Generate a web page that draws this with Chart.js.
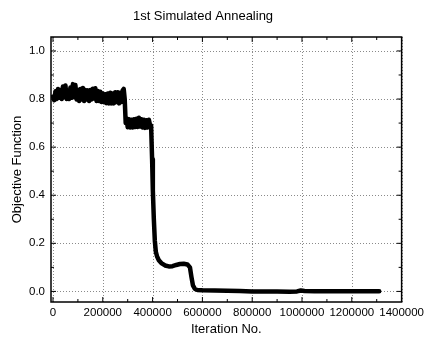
<!DOCTYPE html>
<html>
<head>
<meta charset="utf-8">
<script src="https://cdn.jsdelivr.net/npm/chart.js@4.4.0/dist/chart.umd.min.js"></script>
<style>
  html, body { margin: 0; padding: 0; background: #fff; }
  #wrap { width: 428px; height: 343px; }
</style>
</head>
<body>
<div id="wrap"><canvas id="grafico"></canvas></div>
<script>
// valores
const iteracoes = [
  0, 5000, 10000, 15000, 20000, 25000, 30000, 35000, 40000, 45000,
  50000, 55000, 60000, 65000, 70000, 75000, 80000, 85000, 90000, 95000,
  100000, 105000, 110000, 115000, 120000, 125000, 130000, 135000, 140000, 145000,
  150000, 155000, 160000, 165000, 170000, 175000, 180000, 185000, 190000, 195000,
  200000, 205000, 210000, 215000, 220000, 225000, 230000, 235000, 240000, 245000,
  250000, 255000, 260000, 265000, 270000, 275000, 280000, 284000, 288000, 292000,
  295000, 300000, 305000, 310000, 315000, 320000, 325000, 330000, 335000, 340000,
  345000, 350000, 355000, 360000, 365000, 370000, 375000, 380000, 385000, 390000,
  394000, 398000, 401000, 405000, 409000, 413000, 418000, 425000, 435000, 450000,
  465000, 480000, 495000, 510000, 525000, 540000, 550000, 556000, 562000, 570000,
  580000, 600000, 650000, 700000, 750000, 800000, 850000, 900000, 950000, 980000,
  995000, 1010000, 1050000, 1100000, 1200000, 1310000
];
const objetivo = [
  0.81, 0.795, 0.832, 0.80, 0.842, 0.805, 0.838, 0.80, 0.852, 0.808,
  0.856, 0.80, 0.832, 0.80, 0.848, 0.805, 0.862, 0.808, 0.858, 0.798,
  0.838, 0.792, 0.842, 0.798, 0.846, 0.792, 0.838, 0.798, 0.836, 0.792,
  0.838, 0.798, 0.843, 0.802, 0.845, 0.792, 0.833, 0.792, 0.83, 0.788,
  0.823, 0.787, 0.82, 0.783, 0.823, 0.782, 0.826, 0.782, 0.823, 0.782,
  0.828, 0.788, 0.828, 0.782, 0.826, 0.788, 0.836, 0.842, 0.80, 0.70,
  0.72, 0.683, 0.716, 0.682, 0.714, 0.682, 0.716, 0.684, 0.718, 0.684,
  0.722, 0.686, 0.716, 0.682, 0.714, 0.68, 0.712, 0.682, 0.714, 0.69,
  0.69, 0.55, 0.42, 0.30, 0.21, 0.165, 0.145, 0.13, 0.118, 0.108,
  0.104, 0.105, 0.11, 0.114, 0.115, 0.112, 0.10, 0.06, 0.025, 0.01,
  0.006, 0.005, 0.004, 0.003, 0.002, 0.0, 0.0, 0.0, -0.001, 0.0,
  0.004, 0.002, 0.001, 0.001, 0.001, 0.001
];
const ticksX = [0, 200000, 400000, 600000, 800000, 1000000, 1200000, 1400000];
const ticksY = [0.0, 0.2, 0.4, 0.6, 0.8, 1.0];

const fonte = "'Liberation Sans', Arial, sans-serif";

// grade pontilhada, moldura e marcas internas
const moldura = {
    id: "moldura",
    beforeDatasetsDraw(chart) {
        const { ctx, chartArea: a, scales: { x, y } } = chart;
        ctx.save();
        ctx.strokeStyle = "#8a8a8a";
        ctx.lineWidth = 1;
        ctx.setLineDash([1, 2]);
        ticksX.forEach(v => {
            const px = Math.round(x.getPixelForValue(v)) + 0.5;
            ctx.beginPath(); ctx.moveTo(px, a.top); ctx.lineTo(px, a.bottom); ctx.stroke();
        });
        ticksY.forEach(v => {
            const py = Math.round(y.getPixelForValue(v)) + 0.5;
            ctx.beginPath(); ctx.moveTo(a.left, py); ctx.lineTo(a.right, py); ctx.stroke();
        });
        ctx.restore();
    },
    afterDatasetsDraw(chart) {
        const { ctx, chartArea: a, scales: { x, y } } = chart;
        ctx.save();
        ctx.strokeStyle = "#000";
        ctx.lineWidth = 1.5;
        ctx.setLineDash([]);
        ctx.strokeRect(a.left, a.top, a.right - a.left, a.bottom - a.top);
        ctx.lineWidth = 1;
        const marca = (px, len) => {
            ctx.beginPath();
            ctx.moveTo(px, a.bottom); ctx.lineTo(px, a.bottom - len);
            ctx.moveTo(px, a.top); ctx.lineTo(px, a.top + len);
            ctx.stroke();
        };
        const marcaY = (py, len) => {
            ctx.beginPath();
            ctx.moveTo(a.left, py); ctx.lineTo(a.left + len, py);
            ctx.moveTo(a.right, py); ctx.lineTo(a.right - len, py);
            ctx.stroke();
        };
        ticksX.forEach((v, i) => {
            marca(x.getPixelForValue(v), 5);
            if (i < ticksX.length - 1) marca(x.getPixelForValue(v + 100000), 3);
        });
        ticksY.forEach((v, i) => {
            marcaY(y.getPixelForValue(v), 5);
            if (i < ticksY.length - 1) marcaY(y.getPixelForValue(v + 0.1), 3);
        });
        ctx.restore();
    }
};

new Chart(document.getElementById("grafico"), {
    type: "line",
    data: {
        datasets: [{
            data: iteracoes.map((it, i) => ({ x: it, y: objetivo[i] })),
            borderColor: "#000",
            borderWidth: 4.5,
            borderJoinStyle: "round",
            borderCapStyle: "round",
            pointRadius: 0,
            tension: 0
        }]
    },
    options: {
        responsive: true,
        maintainAspectRatio: false,
        animation: false,
        layout: { padding: { right: 22, left: 0, bottom: 0 } },
        plugins: {
            legend: { display: false },
            tooltip: { enabled: false },
            title: {
                display: true,
                text: "1st Simulated Annealing",
                color: "#000",
                font: { family: fonte, size: 13, weight: "normal" },
                padding: { top: 9, bottom: 12.4 }
            }
        },
        scales: {
            x: {
                type: "linear",
                min: -8000,
                max: 1400000,
                afterBuildTicks: s => { s.ticks = ticksX.map(v => ({ value: v })); },
                afterFit: s => { s.height = 41; },
                grid: { display: false, drawTicks: false },
                border: { display: false },
                ticks: {
                    color: "#000",
                    font: { family: fonte, size: 11.5 },
                    padding: 4,
                    maxRotation: 0,
                    autoSkip: false,
                    callback: v => String(v)
                },
                title: {
                    display: true,
                    text: "Iteration No.",
                    color: "#000",
                    font: { family: fonte, size: 13 },
                    padding: { top: 0, bottom: 6 }
                }
            },
            y: {
                min: -0.044,
                max: 1.058,
                afterBuildTicks: s => { s.ticks = ticksY.map(v => ({ value: v })); },
                afterFit: s => { s.width = 51; },
                grid: { display: false, drawTicks: false },
                border: { display: false },
                ticks: {
                    color: "#000",
                    font: { family: fonte, size: 11.5 },
                    padding: 6,
                    autoSkip: false,
                    callback: v => v.toFixed(1)
                },
                title: {
                    display: true,
                    text: "Objective Function",
                    color: "#000",
                    font: { family: fonte, size: 13 },
                    padding: { top: 10, bottom: 0 }
                }
            }
        }
    },
    plugins: [moldura]
});
</script>
</body>
</html>
